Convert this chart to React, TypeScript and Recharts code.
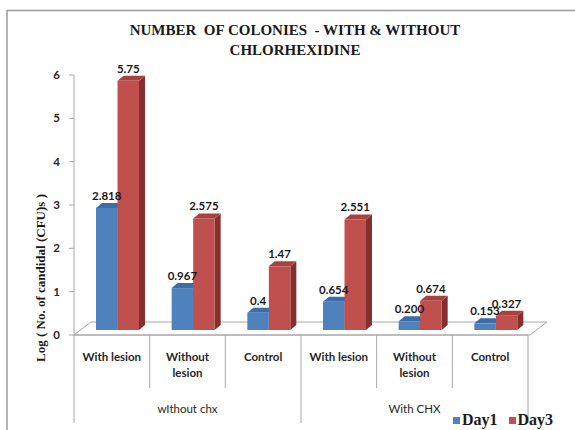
import React from 'react';
import { BarChart, Bar, XAxis, YAxis, LabelList } from 'recharts';

// ---- data ----
const categories = ['With lesion', 'Without\nlesion', 'Control', 'With lesion', 'Without\nlesion', 'Control'];
const groups = ['wIthout chx', 'With CHX'];
const groupSize = 3;
const day1Values = ['2.818', '0.967', '0.4', '0.654', '0.200', '0.153'];
const day3Values = ['5.75', '2.575', '1.47', '2.551', '0.674', '0.327'];
const yTicks = [0, 1, 2, 3, 4, 5, 6];
const seriesNames = ['Day1', 'Day3'];
const titleLines = ['NUMBER  OF COLONIES  - WITH & WITHOUT', 'CHLORHEXIDINE'];
const yAxisTitle = 'Log ( No. of candidal (CFU)s )';

// ---- layout ----
const W = 575;
const H = 430;
const Y_AXIS_W = 74;
const MARGIN = { top: 75, right: 47, bottom: 0, left: 0 };
const X_AXIS_H = 95;
const PLOT_LEFT = MARGIN.left + Y_AXIS_W;
const PLOT_RIGHT = W - MARGIN.right;
const PLOT_BOTTOM = H - MARGIN.bottom - X_AXIS_H;
const BAND = (PLOT_RIGHT - PLOT_LEFT) / categories.length;

// bars stand a little behind the front edge of the floor
const BAR_SHIFT_X = 6;
const BAR_SHIFT_Y = 5;
// depth of each bar (top / side faces)
const DEPTH_X = 6;
const DEPTH_Y = 5;
// depth of the floor
const FLOOR_DX = 17;
const FLOOR_DY = 13;

const GRID = '#a6a6a6';
const SANS = 'Lato, "Open Sans", sans-serif';
const SERIF = '"Liberation Serif", "Times New Roman", serif';

const palettes = [
  { front: '#4f81bd', top: '#3e6da6', side: '#355d8c' },
  { front: '#c0504d', top: '#a8423f', side: '#85302e' },
];

const rows = categories.map((c, i) => ({
  id: `c${i}`,
  name: c,
  day1: Number(day1Values[i]),
  day1Label: day1Values[i],
  day3: Number(day3Values[i]),
  day3Label: day3Values[i],
}));

function Bar3D(props: any) {
  const { x, y, width, height, pal } = props;
  if (x == null || height == null || height <= 0) return null;
  const fx = x + BAR_SHIFT_X;
  const fy = y - BAR_SHIFT_Y;
  const w = width;
  const h = height;
  return (
    <g>
      <polygon
        points={`${fx + w},${fy} ${fx + w + DEPTH_X},${fy - DEPTH_Y} ${fx + w + DEPTH_X},${fy + h - DEPTH_Y} ${fx + w},${fy + h}`}
        fill={pal.side}
      />
      <polygon
        points={`${fx},${fy} ${fx + DEPTH_X},${fy - DEPTH_Y} ${fx + w + DEPTH_X},${fy - DEPTH_Y} ${fx + w},${fy}`}
        fill={pal.top}
      />
      <rect x={fx} y={fy} width={w} height={h} fill={pal.front} />
    </g>
  );
}

function ValueLabel(props: any) {
  const { x, y, width, value } = props;
  if (x == null) return null;
  return (
    <text
      x={x + BAR_SHIFT_X + width / 2}
      y={y - BAR_SHIFT_Y - 8}
      textAnchor="middle"
      fontFamily={SANS}
      fontWeight={700}
      fontSize={11.5}
      fill="#1a1a1a"
    >
      {value}
    </text>
  );
}

function CategoryTick(props: any) {
  const { x, payload } = props;
  const i = rows.findIndex((r) => r.id === payload.value);
  if (i < 0) return null;
  const half = BAND / 2;
  const groupEnd = (i + 1) % groupSize === 0;
  const lines = rows[i].name.split('\n');
  return (
    <g>
      {i === 0 && (
        <line x1={x - half} x2={x - half} y1={PLOT_BOTTOM} y2={423} stroke={GRID} strokeWidth={1} />
      )}
      <line x1={x + half} x2={x + half} y1={PLOT_BOTTOM} y2={groupEnd ? 423 : 388} stroke={GRID} strokeWidth={1} />
      {lines.map((l, k) => (
        <text
          key={k}
          x={x}
          y={357 + k * 16}
          dy="0.35em"
          textAnchor="middle"
          fontFamily={SANS}
          fontWeight={700}
          fontSize={11.5}
          fill="#262626"
        >
          {l}
        </text>
      ))}
      {i % groupSize === 0 && (
        <text
          x={x + half * (groupSize - 1)}
          y={409}
          dy="0.35em"
          textAnchor="middle"
          fontFamily={SANS}
          fontSize={11.5}
          fill="#262626"
        >
          {groups[Math.floor(i / groupSize)]}
        </text>
      )}
    </g>
  );
}

function ValueTick(props: any) {
  const { x, y, payload } = props;
  return (
    <text x={x} y={y} dy="0.35em" textAnchor="end" fontFamily={SANS} fontWeight={700} fontSize={11.5} fill="#262626">
      {payload.value}
    </text>
  );
}

function LegendBox() {
  return (
    <div
      style={{
        position: 'absolute',
        left: 453,
        top: 410,
        display: 'flex',
        alignItems: 'center',
        fontFamily: SERIF,
        fontWeight: 700,
        fontSize: 16,
        lineHeight: '20px',
        color: '#1a1a1a',
        whiteSpace: 'nowrap',
      }}
    >
      {seriesNames.map((n, k) => (
        <span key={k} style={{ display: 'inline-flex', alignItems: 'center', marginRight: 11 }}>
          <span style={{ display: 'inline-block', width: 7, height: 7, background: palettes[k].front, marginRight: 2 }} />
          {n}
        </span>
      ))}
    </div>
  );
}

export default function App() {
  const floor = `${PLOT_LEFT},${PLOT_BOTTOM} ${PLOT_RIGHT + 2},${PLOT_BOTTOM} ${PLOT_RIGHT + 2 + FLOOR_DX},${PLOT_BOTTOM - FLOOR_DY} ${PLOT_LEFT + FLOOR_DX},${PLOT_BOTTOM - FLOOR_DY}`;
  return (
    <div style={{ position: 'absolute', left: 0, top: 0, width: W, height: H, background: '#fff' }}>
      <svg width={W} height={H} style={{ position: 'absolute', left: 0, top: 0 }}>
        <rect x={7} y={10.5} width={W + 20} height={H + 20} fill="none" stroke="#9a9a9a" strokeWidth={1.5} />
        {titleLines.map((t, k) => (
          <text
            key={k}
            x={295}
            y={35 + k * 19.5}
            textAnchor="middle"
            fontFamily={SERIF}
            fontWeight={700}
            fontSize={15}
            fill="#1a1a1a"
            style={{ whiteSpace: 'pre' }}
          >
            {t}
          </text>
        ))}
        <text
          transform={`translate(40, 278) rotate(-90)`}
          textAnchor="middle"
          dy="0.35em"
          fontFamily={SERIF}
          fontWeight={700}
          fontSize={13}
          fill="#1a1a1a"
        >
          {yAxisTitle}
        </text>
        <polygon points={floor} fill="#ffffff" stroke={GRID} strokeWidth={1} />
      </svg>
      <div style={{ position: 'absolute', left: 0, top: 0 }}>
        <BarChart width={W} height={H} data={rows} margin={MARGIN} barGap={0} barSize={21.5}>
          <XAxis
            dataKey="id"
            height={X_AXIS_H}
            axisLine={{ stroke: GRID }}
            tickLine={false}
            tick={<CategoryTick />}
            interval={0}
          />
          <YAxis
            width={Y_AXIS_W}
            domain={[0, 6]}
            ticks={yTicks}
            interval={0}
            axisLine={{ stroke: GRID }}
            tickLine={{ stroke: GRID }}
            tickSize={5}
            tickMargin={9}
            tick={<ValueTick />}
          />
          <Bar dataKey="day1" name={seriesNames[0]} fill={palettes[0].front} isAnimationActive={false} shape={(p: any) => <Bar3D {...p} pal={palettes[0]} />}>
            <LabelList dataKey="day1Label" content={<ValueLabel />} />
          </Bar>
          <Bar dataKey="day3" name={seriesNames[1]} fill={palettes[1].front} isAnimationActive={false} shape={(p: any) => <Bar3D {...p} pal={palettes[1]} />}>
            <LabelList dataKey="day3Label" content={<ValueLabel />} />
          </Bar>
        </BarChart>
      </div>
      <LegendBox />
    </div>
  );
}
